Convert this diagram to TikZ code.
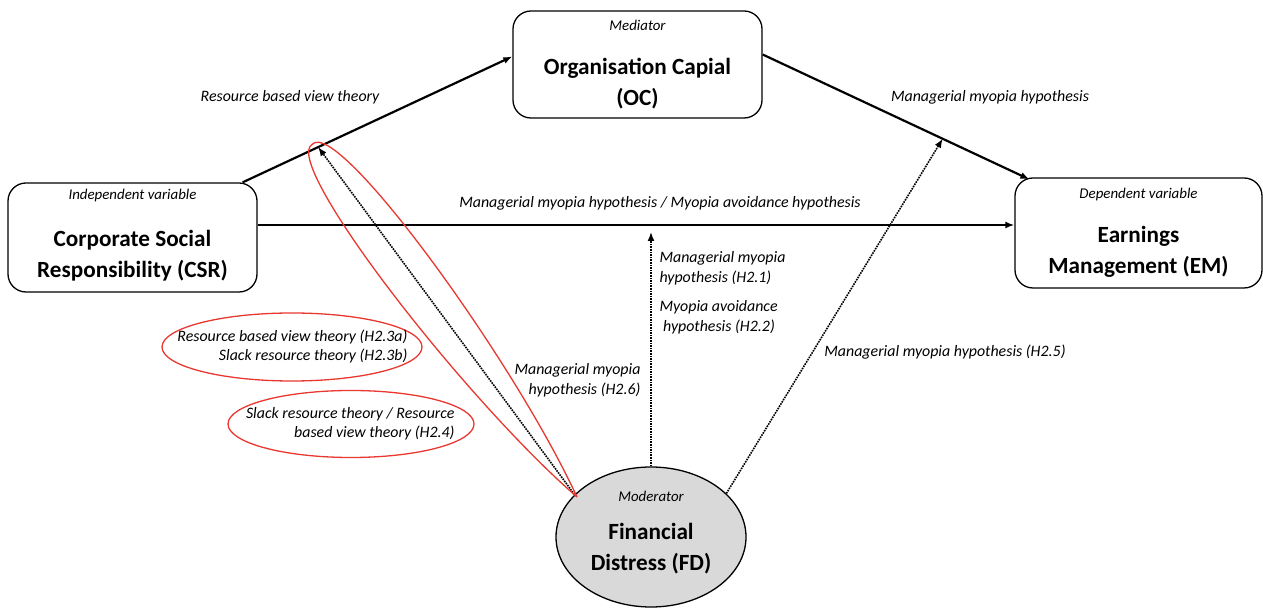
\documentclass[tikz,border=0pt]{standalone}
\usepackage{fontspec}
\setmainfont{Carlito}
\usetikzlibrary{arrows.meta,calc,shapes.geometric}
\definecolor{ovalred}{RGB}{232,56,48}
\definecolor{fdgray}{RGB}{217,217,217}
\begin{document}
\begin{tikzpicture}[x=1pt,y=1pt,
  varbox/.style={draw, line width=1.3pt, rounded corners=18pt, inner sep=0pt},
  title/.style={font=\fontsize{23.2}{31}\selectfont\bfseries, align=center},
  role/.style={font=\fontsize{14.9}{18}\selectfont\itshape},
  lbl/.style={font=\fontsize{15.9}{20}\selectfont\itshape},
  oval/.style={draw=ovalred, line width=1.3pt, ellipse, inner sep=0pt},
  arr/.style={line width=2.2pt, -{Latex[length=9pt,width=7pt]}},
  darr/.style={line width=1.6pt, densely dotted, -{Latex[length=9pt,width=7pt]}}
]
\useasboundingbox (0,0) rectangle (1263,610);

% variable boxes
\node[varbox, minimum width=249, minimum height=109] (csr) at (132.5,372.5) {};
\node[varbox, minimum width=249, minimum height=107] (oc) at (637.5,545.5) {};
\node[varbox, minimum width=247, minimum height=110] (em) at (1138.5,377) {};
\node[draw, ellipse, line width=1.3pt, fill=fdgray, inner sep=0pt,
      minimum width=190, minimum height=140] (fd) at (651,73) {};

\node[role] (csrrole) at (132.5,414) {Independent variable};
\node[title] (csrtitle) at (132.5,354.5) {Corporate Social\\Responsibility (CSR)};
\node[role] (ocrole) at (637.5,585) {Mediator};
\node[title] (octitle) at (637.5,526) {Organisation Capial\\(OC)};
\node[role] (emrole) at (1138.5,415) {Dependent variable};
\node[title] (emtitle) at (1138.5,358) {Earnings\\Management (EM)};
\node[role] (fdrole) at (651,114) {Moderator};
\node[title] (fdtitle) at (651,61) {Financial\\Distress (FD)};

% direct and mediated paths
\coordinate (csrout) at ($(csr.north east)+(-15,0)$);
\coordinate (ocin) at ($(oc.west)+(0,8)$);
\coordinate (ocout) at ($(oc.east)+(0,10)$);
\coordinate (emin) at ($(em.north west)+(15,-2)$);
\coordinate (hline) at (0,385);
\draw[arr] (csrout) -- (ocin);
\draw[arr] (ocout) -- (emin);
\draw[arr] (csr.east |- hline) -- (em.west |- hline);

% moderating effects
\coordinate (hit1) at ($(csrout)!0.28!(ocin)$);
\coordinate (hit2) at ($(ocout)!0.675!(emin)$);
\coordinate (hit3) at (651,378);
\draw[darr] (fd.north) -- (hit3);
\draw[darr] (fd.151) -- (hit1);
\draw[darr] (fd.30) -- (hit2);

% red outline around the H2.6 path
\begin{scope}[shift={(577,113)}, rotate=126.87]
  \draw[ovalred, line width=1.3pt] (0,0) .. controls (150,32) and (447,36) .. (441,0)
        .. controls (447,-36) and (150,-32) .. (0,0);
\end{scope}

% path labels
\node[lbl] (lrbv) at (290,513) {Resource based view theory};
\node[lbl] (lmmh) at (990,513) {Managerial myopia hypothesis};
\node[lbl] (lmain) at (660,407) {Managerial myopia hypothesis / Myopia avoidance hypothesis};
\node[lbl, anchor=west, align=left] (lh21) at (656,342) {Managerial myopia\\hypothesis (H2.1)};
\node[lbl, anchor=west, align=left] (lh22) at (656,293) {Myopia avoidance\\\ hypothesis (H2.2)};
\node[lbl] (lh25) at (945,258) {Managerial myopia hypothesis (H2.5)};
\node[lbl, anchor=east, align=right] (lh26) at (644,230) {Managerial myopia\\hypothesis (H2.6)};

% highlighted hypotheses
\node[oval, minimum width=260, minimum height=68] (o1) at (292,263) {};
\node[lbl, anchor=east, align=right, font=\fontsize{15.9}{19}\selectfont\itshape] (lh23) at (411,263.5)
  {Resource based view theory (H2.3a)\\Slack resource theory (H2.3b)};
\node[oval, minimum width=246, minimum height=67] (o2) at (351,186) {};
\node[lbl, anchor=east, align=right, font=\fontsize{15.9}{19}\selectfont\itshape] (lh24) at (458,186.5)
  {Slack resource theory / Resource\\based view theory (H2.4)};
\end{tikzpicture}
\end{document}
